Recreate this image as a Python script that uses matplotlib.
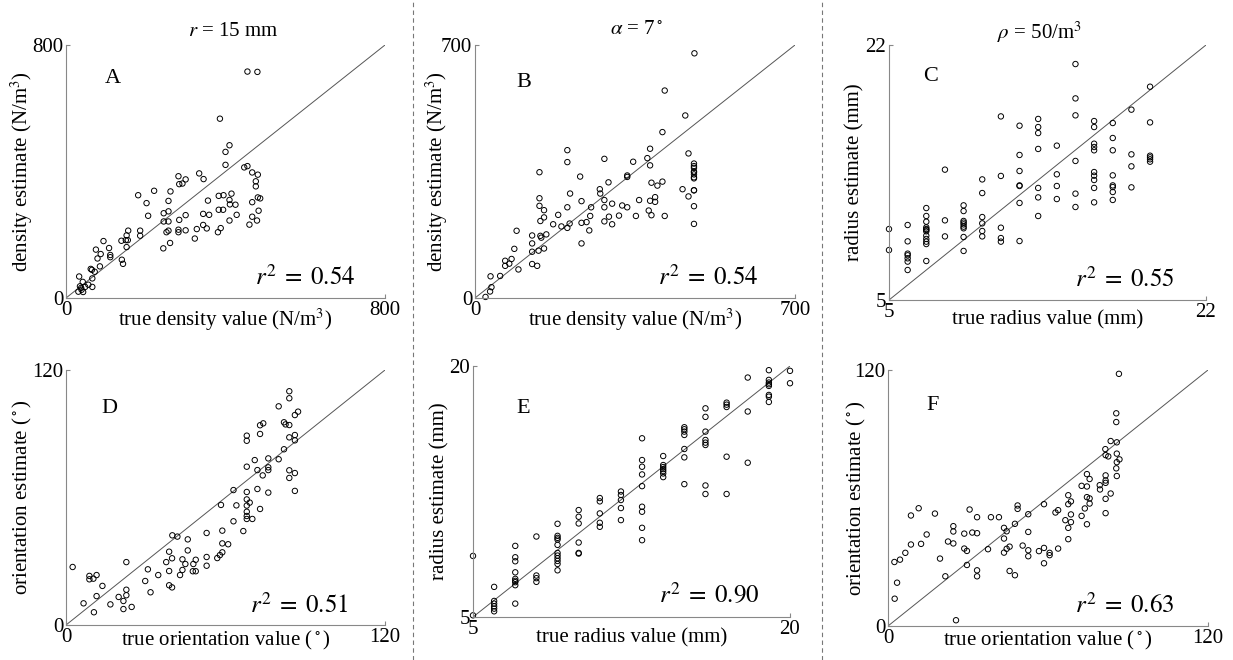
import matplotlib
matplotlib.use("Agg")
import matplotlib.pyplot as plt

plt.rcParams['font.family'] = ['Liberation Serif', 'DejaVu Serif']
plt.rcParams['mathtext.fontset'] = 'stix'

W, H = 1233, 660

# ---------------- data ----------------
# Panel A: density (r = 15 mm)
a_true = [455, 480, 386, 410, 400, 400, 447, 455, 467, 481, 334, 345, 282, 300, 284, 292, 476, 476,
          181, 221, 262, 202, 257, 383, 395, 415, 356, 410, 425, 411, 467, 481, 487, 206, 245, 257,
          300, 344, 359, 383, 394, 428, 483, 467, 479, 460, 410, 245, 257, 284, 344, 353, 328, 282,
          282, 300, 257, 252, 261, 244, 323, 381, 388, 186, 186, 156, 152, 139, 150, 155, 152, 94,
          108, 111, 111, 75, 87, 79, 85, 65, 72, 140, 143, 33, 35, 42, 56, 66, 66, 48, 39, 31, 43, 38, 62]
a_est = [716, 715, 567, 483, 462, 421, 413, 417, 397, 390, 394, 376, 385, 375, 360, 362, 369, 353,
         325, 339, 337, 300, 307, 323, 325, 330, 308, 310, 295, 296, 303, 318, 315, 260, 268, 274,
         262, 266, 263, 279, 279, 263, 276, 257, 245, 232, 245, 242, 242, 247, 231, 220, 218, 216,
         208, 214, 213, 208, 174, 157, 188, 208, 221, 213, 197, 213, 198, 181, 183, 183, 161, 180,
         158, 136, 129, 153, 139, 125, 100, 89, 83, 121, 108, 68, 37, 51, 42, 35, 62, 35, 26, 20, 19, 32, 92]

# Panel B: density (alpha = 7 deg)
b_true = [480, 415, 460, 410, 467, 383, 202, 202, 283, 346, 377, 383, 141, 230, 333, 333, 292, 273, 274,
          386, 399, 410, 454, 467, 479, 479, 479, 479, 479, 479, 479, 479, 479, 479, 479, 479,
          141, 141, 151, 143, 151, 208, 233, 202, 182, 171, 189, 202, 207, 254, 252, 244, 233, 250, 233,
          283, 283, 300, 293, 283, 300, 315, 322, 333, 359, 352, 383, 394, 394, 380, 386, 415,
          91, 125, 125, 125, 143, 156, 145, 151, 139, 86, 66, 80, 66, 75, 95, 125, 136, 34, 55, 36, 33, 23]
b_est = [677, 574, 505, 459, 400, 413, 409, 376, 385, 377, 387, 367, 348, 336, 339, 335, 320, 301, 289,
         319, 311, 322, 301, 281, 372, 365, 360, 350, 348, 342, 334, 331, 298, 298, 254, 205,
         276, 255, 243, 213, 223, 289, 268, 251, 230, 204, 198, 194, 206, 251, 227, 210, 208, 187, 151,
         271, 251, 261, 225, 212, 204, 228, 256, 251, 271, 227, 269, 279, 266, 242, 229, 227,
         186, 173, 151, 128, 172, 176, 167, 137, 131, 136, 103, 108, 89, 95, 79, 94, 89, 60, 61, 30, 18, 3]

# Panel C: radius (rho = 50/m^3)
c_true = [5, 5,
          6, 6, 6, 6, 6, 6, 6,
          7, 7, 7, 7, 7, 7, 7, 7, 7, 7, 7, 7,
          8, 8, 8,
          9, 9, 9, 9, 9, 9, 9, 9, 9,
          10, 10, 10, 10, 10, 10,
          11, 11, 11, 11, 11,
          12, 12, 12, 12, 12, 12, 12,
          13, 13, 13, 13, 13, 13, 13,
          14, 14, 14, 14,
          15, 15, 15, 15, 15, 15,
          16, 16, 16, 16, 16, 16, 16, 16, 16, 16,
          17, 17, 17, 17, 17, 17, 17, 17,
          18, 18, 18, 18,
          19, 19, 19, 19, 19, 19]
c_est = [9.73, 8.33,
         10.0, 8.91, 8.09, 7.98, 7.78, 7.56, 7.0,
         11.13, 10.6, 10.22, 9.84, 9.73, 9.67, 9.58, 9.29, 9.07, 8.89, 8.73, 7.6,
         13.69, 10.31, 9.24,
         11.31, 10.93, 10.27, 10.16, 10.04, 9.89, 9.78, 9.2, 8.27,
         13.04, 12.13, 10.53, 10.11, 9.6, 9.24,
         17.24, 13.27, 9.82, 9.13, 8.89,
         16.62, 14.67, 13.6, 12.64, 12.6, 11.47, 8.93,
         17.07, 16.53, 16.13, 15.07, 12.47, 11.84, 10.6,
         15.29, 13.38, 12.6, 11.73,
         20.73, 18.44, 17.31, 14.27, 12.09, 11.2,
         16.93, 16.53, 15.42, 15.2, 14.98, 13.53, 13.29, 13.0, 12.47, 11.51,
         16.8, 15.8, 14.98, 13.31, 12.64, 12.53, 12.2, 11.67,
         17.69, 14.71, 13.91, 12.51,
         19.22, 16.84, 14.62, 14.51, 14.38, 14.22]

# Panel D: orientation (r = 15 mm)
d_true = [84, 84, 80, 87.3, 86.1, 73, 74.2, 82, 82.6, 84, 73, 68, 68, 86.1, 84, 86.1,
          82, 71, 76.1, 80, 68, 72, 74, 76.1, 76.1, 84, 86.1, 84, 86.1, 76.1,
          63, 68, 72, 68, 69.1, 64.1, 58.3, 73, 68, 68, 68, 68, 70.1, 63, 66.7,
          58.8, 52.9, 58.8, 61, 58.8, 57.9, 56.9, 52.9, 52.9,
          40, 41.9, 45.8, 38.8, 45.8, 39.9, 37.7, 43.8, 44.9, 48.8, 47.9, 47.7, 48.8, 38.8, 43.8, 42.9,
          38.8, 39.9, 30.8, 34.7, 29.8, 31.8, 22.7, 22.7, 22.7, 19.8, 21.6, 21.6, 24.7, 16.7,
          13.7, 11.5, 8.8, 8.8, 10.3, 11.5, 2.5, 6.6, 10.5]
d_est = [110, 106.7, 102.9, 100.4, 98.8, 94, 94.9, 95.4, 94.4, 94.1, 89.9, 89.1, 86.7, 89.4, 88.3, 86.9,
         82.7, 77.6, 78.4, 78, 74.5, 72.9, 70.4, 74.2, 72.9, 72.8, 71.5, 69.2, 63.1, 62.3,
         63.5, 62.6, 64, 59.1, 57.6, 56.3, 56.5, 54.6, 56.2, 53.3, 51.3, 49.9, 49.9, 48.8, 44.2,
         44.4, 43.3, 38.4, 38, 34.2, 32.9, 31.5, 32, 27.9,
         42.2, 41.6, 40.3, 34.5, 35.1, 31.4, 29.6, 30.9, 28.7, 30.7, 28.7, 25.3, 25.3, 25.4, 25.9, 23.5,
         18.7, 17.7, 26.2, 23.5, 20.7, 15.4, 29.6, 16.6, 14, 13.2, 11.3, 7.5, 8.5, 9.7,
         18.4, 13.6, 23.1, 21.5, 21.8, 23.5, 27.3, 10.2, 6]

# Panel E: radius (alpha = 7 deg)
e_true = [5, 5,
          6, 6, 6, 6, 6, 6,
          7, 7, 7, 7, 7, 7, 7, 7, 7,
          8, 8, 8, 8,
          9, 9, 9, 9, 9, 9, 9, 9, 9, 9, 9,
          10, 10, 10, 10, 10, 10,
          11, 11, 11, 11, 11,
          12, 12, 12, 12, 12,
          13, 13, 13, 13, 13, 13, 13, 13, 13,
          14, 14, 14, 14, 14, 14, 14,
          15, 15, 15, 15, 15, 15, 15,
          16, 16, 16, 16, 16, 16, 16, 16,
          17, 17, 17, 17, 17,
          18, 18, 18,
          19, 19, 19, 19, 19, 19, 19, 19,
          20, 20]
e_est = [8.65, 5.1,
         6.8, 5.96, 5.8, 5.64, 5.5, 5.34,
         9.25, 8.57, 8.33, 7.67, 7.28, 7.16, 7.08, 6.9, 5.8,
         9.81, 7.48, 7.32, 7.1,
         10.57, 9.85, 9.73, 9.63, 9.31, 8.83, 8.67, 8.51, 8.35, 8.17, 7.79,
         11.39, 10.99, 10.59, 9.45, 8.83, 8.79,
         12.11, 11.91, 11.19, 10.63, 10.39,
         12.5, 12.29, 11.99, 11.51, 10.79,
         15.68, 14.38, 13.98, 13.52, 12.82, 11.59, 11.29, 10.33, 9.59,
         14.62, 14.08, 13.96, 13.84, 13.72, 13.58, 13.36,
         16.34, 16.22, 16.08, 15.88, 15.04, 14.54, 12.94,
         17.47, 16.96, 16.08, 15.58, 15.42, 15.28, 12.86, 12.35,
         17.81, 17.69, 17.55, 14.58, 12.35,
         19.31, 17.28, 14.22,
         19.75, 19.17, 19.01, 18.91, 18.81, 18.27, 18.17, 17.85,
         19.71, 18.97]

# Panel F: orientation (rho = 50/m^3)
f_true = [86.6, 85.6, 85.6, 83.5, 85.8, 81.5, 81.6, 82.6, 85.8, 86.8, 85.8, 85.6, 85.8,
          74.6, 81.6, 81.6, 81.6, 75.6, 72.6, 74.6, 79.4, 79.5, 83.5, 81.6, 81.6, 74.6, 75.6, 75.6, 73.8, 72.6, 74.6,
          67.6, 67.6, 68.6, 68.6, 66.5, 68.6, 67.6, 67.6, 62.8, 63.8, 58.5, 63.8,
          58.5, 56.6, 60.6, 60.6, 58.5,
          48.6, 48.6, 52.6, 47.6, 52.6, 50.5, 52.6, 52.6, 45.6, 44.5, 43.5, 45.6, 47.6,
          43.5, 44.5, 43.5, 38.6, 41.6, 37.5,
          30.6, 33.4, 31.6, 33.4, 28.6, 28.6, 29.6, 29.6, 33.4, 33.4,
          24.5, 24.5, 22.5, 24.5, 19.5, 21.5, 25.5,
          17.6, 14.5, 12.4, 11.5, 8.6, 8.6, 6.5, 4.5, 2.4, 3.4, 2.5]
f_est = [118.2, 99.7, 95.6, 86.7, 86.1, 82.9, 80.1, 79.5, 80.8, 78.1, 76.8, 73.9, 70.3,
         71.2, 70.6, 68.2, 67.1, 68.9, 65.7, 65.4, 66, 64, 62.1, 59.6, 52.9, 60.4, 59.8, 57.4, 55.1, 51.6, 47.7,
         61.3, 57.1, 58.4, 52.3, 49.6, 48.7, 46, 40.7, 53.2, 54.3, 57.1, 36.3,
         36.6, 35.1, 34.3, 33.2, 29.4,
         56.5, 54.9, 52.4, 47.9, 44.1, 37.7, 35.5, 32.7, 37.2, 36.2, 34.4, 25.8, 23.8,
         46, 44.4, 41, 51, 51, 36,
         54.6, 51, 43.8, 43.5, 43.3, 36.3, 35.2, 28.6, 26.1, 23.3,
         46.8, 44.3, 39.6, 38.7, 31.6, 23.3, 2.7,
         52.7, 42.9, 38.5, 55.2, 51.8, 38.2, 34.3, 31.1, 30.0, 20.3, 12.8]

letters = ['A', 'B', 'C', 'D', 'E', 'F']
r2_text = ['0.54', '0.54', '0.55', '0.51', '0.90', '0.63']
limits = [(0, 800), (0, 700), (5, 22), (0, 120), (5, 20), (0, 120)]
xlabels = [r'true density value (N/m$^3$)', r'true density value (N/m$^3$)', 'true radius value (mm)',
           r'true orientation value ($^\circ$)', 'true radius value (mm)', r'true orientation value ($^\circ$)']
ylabels = [r'density estimate (N/m$^3$)', r'density estimate (N/m$^3$)', 'radius estimate (mm)',
           r'orientation estimate ($^\circ$)', 'radius estimate (mm)', r'orientation estimate ($^\circ$)']
titles = [r'$r$ = 15 mm', r'$\alpha$ = 7$^\circ$', r'$\rho$ = 50/m$^3$']
xs = [a_true, b_true, c_true, d_true, e_true, f_true]
ys = [a_est, b_est, c_est, d_est, e_est, f_est]

# ---------------- layout (pixel boxes: left, top, right, bottom) ----------------
boxes = [(66, 45, 385, 298), (475, 45, 795, 298), (889, 45, 1206, 300),
         (66, 370, 385, 625), (473, 366, 790, 617), (888, 370, 1208, 626)]
letter_pos = [(0.147, 0.866), (0.153, 0.85), (0.13, 0.878), (0.135, 0.85), (0.158, 0.83), (0.14, 0.863)]
r2_pos = [(0.75, 0.083), (0.73, 0.083), (0.745, 0.082), (0.73, 0.078), (0.745, 0.088), (0.74, 0.082)]
ylabel_x = [22, 437, 855, 22, 440, 856]
xlabel_y = [320, 320, 320, 640, 638, 640]
title_pos = [(233, 32), (637, 30), (1040, 32)]

fig = plt.figure(figsize=(W / 100, H / 100), dpi=100)

for i in range(6):
    l, t, r, b = boxes[i]
    ax = fig.add_axes([l / W, 1 - b / H, (r - l) / W, (b - t) / H])
    lo, hi = limits[i]
    ax.plot([lo, hi], [lo, hi], color='#555555', lw=0.7, zorder=1)
    ax.scatter(xs[i], ys[i], s=15, facecolors='none', edgecolors='black', linewidths=0.7,
               clip_on=False, zorder=2)
    ax.set_xlim(lo, hi)
    ax.set_ylim(lo, hi)
    ax.set_xticks([lo, hi])
    ax.set_yticks([lo, hi])
    ax.set_xticklabels([str(lo), str(hi)])
    ax.set_yticklabels([str(lo), str(hi)])
    for s in ['top', 'right']:
        ax.spines[s].set_visible(False)
    for s in ['left', 'bottom']:
        ax.spines[s].set_color('#888888')
        ax.spines[s].set_linewidth(0.8)
    ax.tick_params(direction='in', length=3, width=0.8, color='#888888', labelsize=15, pad=2)
    ax.text(letter_pos[i][0], letter_pos[i][1], letters[i], transform=ax.transAxes,
            fontsize=16, ha='center', va='center')
    ax.text(r2_pos[i][0], r2_pos[i][1], r'$r^2 \;=\; ' + r2_text[i] + '$', transform=ax.transAxes,
            fontsize=18, ha='center', va='center')
    cx = (l + r) / 2
    fig.text(cx / W, 1 - xlabel_y[i] / H, xlabels[i], fontsize=15, ha='center', va='center')
    cy = (t + b) / 2
    fig.text(ylabel_x[i] / W, 1 - cy / H, ylabels[i], fontsize=15, ha='center', va='center',
             rotation=90)

for j in range(3):
    fig.text(title_pos[j][0] / W, 1 - title_pos[j][1] / H, titles[j], fontsize=15,
             ha='center', va='center')

for xsep in [413, 822]:
    fig.add_artist(plt.Line2D([xsep / W, xsep / W], [0, 1], transform=fig.transFigure,
                              color='#777777', lw=0.8, ls=(0, (4, 3))))

fig.savefig('out.png', dpi=100, facecolor='white')
